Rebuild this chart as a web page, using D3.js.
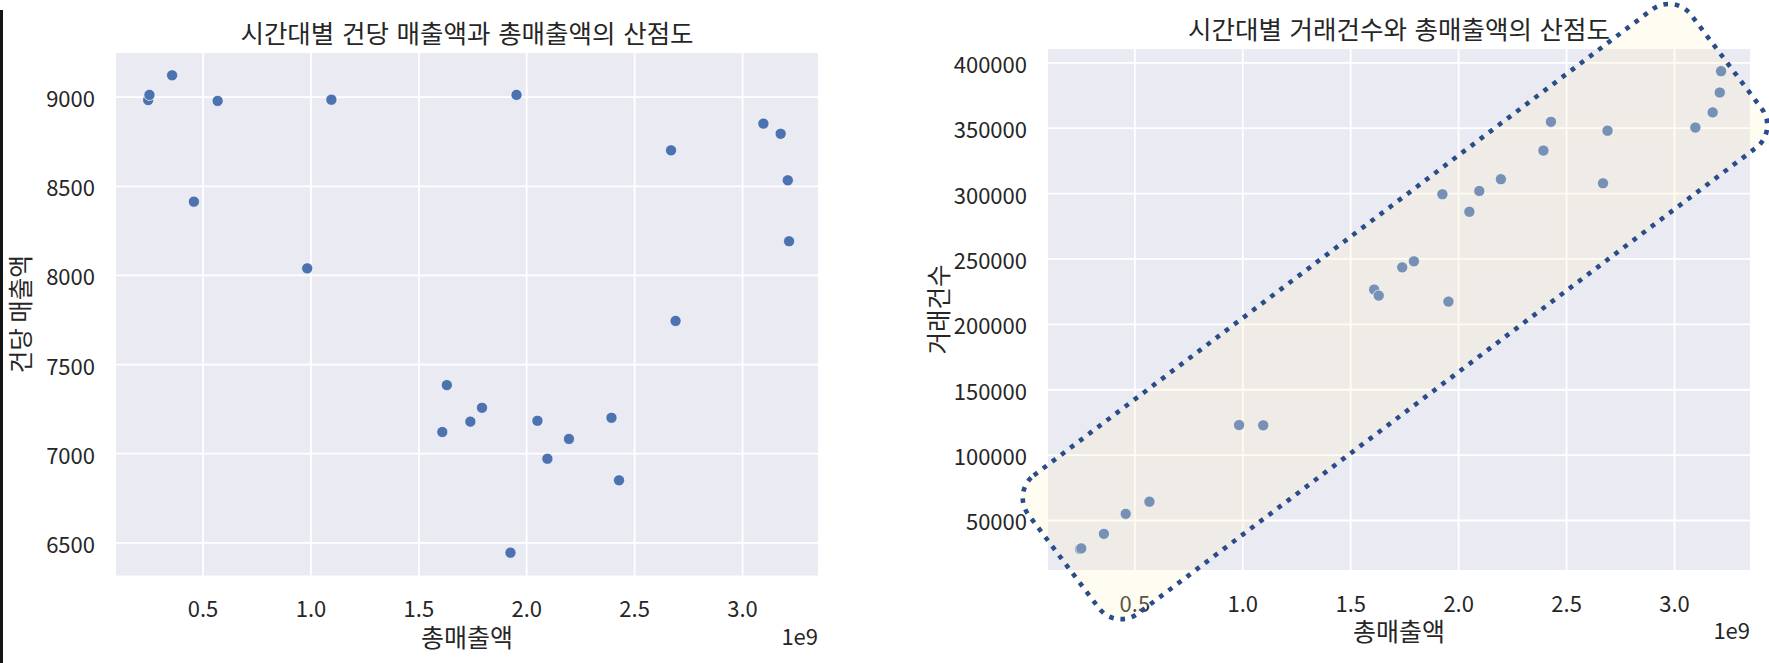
<!DOCTYPE html>
<html>
<head>
<meta charset="utf-8">
<script src="https://cdn.jsdelivr.net/npm/d3@7"></script>
<style>
  html, body { margin: 0; padding: 0; background: #ffffff; }
  svg { display: block; }
  text { font-family: "Noto Sans CJK KR", "Noto Sans", sans-serif; fill: #262626; }
</style>
</head>
<body>
<svg id="chart" width="1769" height="663"></svg>
<script>
// ---- data (one entry per hour of the day) ----
const totalSales = [0.248e9, 0.254e9, 0.359e9, 0.460e9, 0.570e9, 0.985e9, 1.097e9, 1.611e9,
                    1.632e9, 1.741e9, 1.795e9, 1.927e9, 1.955e9, 2.052e9, 2.098e9, 2.198e9,
                    2.395e9, 2.430e9, 2.671e9, 2.692e9, 3.099e9, 3.179e9, 3.212e9, 3.218e9];
const perTransaction = [8981, 9010, 9120, 8411, 8976, 8037, 8983, 7119,
                        7382, 7177, 7255, 6442, 9010, 7182, 6969, 7080,
                        7199, 6848, 8699, 7742, 8849, 8792, 8531, 8189];
const transactions = [27800, 28300, 39400, 54700, 64000, 122600, 122400, 226200,
                      221600, 243200, 247800, 299100, 217000, 285700, 301600, 310600,
                      332500, 354500, 307500, 347700, 350100, 361700, 376900, 393200];
const xTicks = [0.5e9, 1.0e9, 1.5e9, 2.0e9, 2.5e9, 3.0e9];
const xTickLabels = ["0.5", "1.0", "1.5", "2.0", "2.5", "3.0"];
const leftYTicks = [6500, 7000, 7500, 8000, 8500, 9000];
const rightYTicks = [50000, 100000, 150000, 200000, 250000, 300000, 350000, 400000];
const titles = ["시간대별 건당 매출액과 총매출액의 산점도", "시간대별 거래건수와 총매출액의 산점도"];
const xLabel = "총매출액";
const yLabels = ["건당 매출액", "거래건수"];
const offsetText = "1e9";

const svg = d3.select("#chart");

// left black edge line of the original screenshot
svg.append("rect").attr("x", 0).attr("y", 10).attr("width", 3).attr("height", 653).attr("fill", "#151515");

function panel(cfg) {
  const g = svg.append("g");
  const x = d3.scaleLinear().domain(cfg.xDomain).range([cfg.left, cfg.right]);
  const y = d3.scaleLinear().domain(cfg.yDomain).range([cfg.bottom, cfg.top]);

  g.append("rect")
    .attr("x", cfg.left).attr("y", cfg.top)
    .attr("width", cfg.right - cfg.left).attr("height", cfg.bottom - cfg.top)
    .attr("fill", "#EAEAF2");

  const gx = g.append("g").attr("transform", `translate(0,${cfg.bottom})`)
    .call(d3.axisBottom(x).tickValues(xTicks).tickFormat((d, i) => xTickLabels[i])
      .tickSize(-(cfg.bottom - cfg.top)).tickPadding(0));
  const gy = g.append("g").attr("transform", `translate(${cfg.left},0)`)
    .call(d3.axisLeft(y).tickValues(cfg.yTicks).tickFormat(d3.format("d"))
      .tickSize(-(cfg.right - cfg.left)).tickPadding(21));
  [gx, gy].forEach(a => {
    a.select(".domain").remove();
    a.selectAll(".tick line").attr("stroke", "#ffffff").attr("stroke-width", 1.8);
    a.selectAll(".tick text").attr("font-size", 22).attr("fill", "#262626")
      .style("font-family", '"Noto Sans CJK KR", sans-serif');
  });
  gx.selectAll(".tick text").attr("y", 31.5).attr("dy", 0).attr("dominant-baseline", "central");
  gy.selectAll(".tick text").attr("dy", 0).attr("dominant-baseline", "central");

  g.append("g").selectAll("circle").data(cfg.xs.map((v, i) => [v, cfg.ys[i]]))
    .join("circle")
    .attr("cx", d => x(d[0])).attr("cy", d => y(d[1]))
    .attr("r", 5.6)
    .attr("fill", "#4C72B0")
    .attr("stroke", "#ffffff").attr("stroke-width", 0.7);

  const cx = (cfg.left + cfg.right) / 2;
  g.append("text").attr("x", cx).attr("y", cfg.top - 21.5)
    .attr("text-anchor", "middle").attr("dominant-baseline", "central")
    .attr("font-size", 25.5).attr("word-spacing", 2).text(cfg.title);
  g.append("text").attr("x", cx).attr("y", cfg.bottom + 60)
    .attr("text-anchor", "middle").attr("dominant-baseline", "central")
    .attr("font-size", 25).text(xLabel);
  g.append("text").attr("x", cfg.right).attr("y", cfg.bottom + 59)
    .attr("text-anchor", "end").attr("dominant-baseline", "central")
    .attr("font-size", 22).text(offsetText);
  g.append("text")
    .attr("transform", `translate(${cfg.yLabelX},${(cfg.top + cfg.bottom) / 2}) rotate(-90)`)
    .attr("text-anchor", "middle").attr("dominant-baseline", "central")
    .attr("font-size", 24.5).text(cfg.yLabel);
  return { x, y, g };
}

const left = panel({
  left: 116, right: 818, top: 53, bottom: 575.5,
  xDomain: [0.099e9, 3.352e9], yDomain: [6314, 9245],
  yTicks: leftYTicks, xs: totalSales, ys: perTransaction,
  title: titles[0], yLabel: yLabels[0], yLabelX: 19
});

const right = panel({
  left: 1048, right: 1750, top: 49, bottom: 570,
  xDomain: [0.1e9, 3.352e9], yDomain: [11765, 410170],
  yTicks: rightYTicks, xs: totalSales, ys: transactions,
  title: titles[1], yLabel: yLabels[1], yLabelX: 937
});

// highlight annotation: rotated rounded rectangle around the trend
const annCenter = [1.7075e9, 209400];
const annW = 830, annH = 173, annAngle = -37;
const acx = right.x(annCenter[0]), acy = right.y(annCenter[1]);
svg.append("rect")
  .attr("x", -annW / 2).attr("y", -annH / 2)
  .attr("width", annW).attr("height", annH)
  .attr("rx", 28).attr("ry", 28)
  .attr("transform", `translate(${acx},${acy}) rotate(${annAngle})`)
  .attr("fill", "rgb(255,242,200)").attr("fill-opacity", 0.24)
  .attr("stroke", "#2B4C8A").attr("stroke-width", 4.6)
  .attr("stroke-dasharray", "4.6 6.8");
</script>
</body>
</html>
